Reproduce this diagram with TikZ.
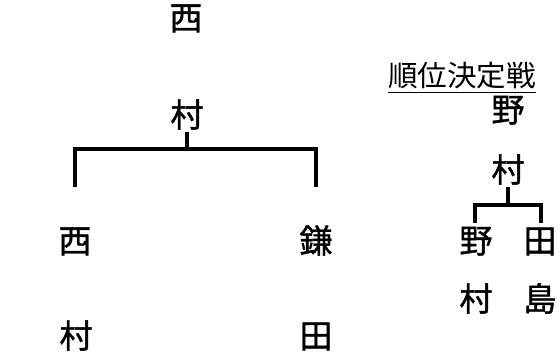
\documentclass[tikz,border=0pt]{standalone}
\usepackage{fontspec}
\newfontfamily\cjk{Noto Sans CJK JP}
\newfontfamily\cjkm{Noto Sans CJK JP}[FakeBold=1.2]
\tikzset{
  person/.style={font=\cjkm\fontsize{33}{36}\selectfont, inner sep=0pt, text depth=3pt, anchor=base},
  titletext/.style={font=\cjk\fontsize{29}{32}\selectfont, inner sep=0pt, anchor=base},
  bracket/.style={line width=3.2pt, line join=miter},
}
\begin{document}
\begin{tikzpicture}[x=1pt,y=-1pt]
\useasboundingbox (0,0) rectangle (560,357);
% main bracket
\node[person] (t1) at (186,30) {西};
\node[person] (t2) at (187,127) {村};
\node[person] (a1) at (75,253) {西};
\node[person] (a2) at (76,348) {村};
\node[person] (b1) at (316,253) {鎌};
\node[person] (b2) at (316,348) {田};
\coordinate (jl) at (75,149);
\coordinate (jr) at (316,149);
\coordinate (el) at (75,187);
\coordinate (er) at (316,187);
\draw[bracket] (el) -- (jl) -- (jr) -- (er);
\draw[bracket] (t2.south) ++(0,2) -- (t2.south |- jl);
% playoff
\node[titletext] (ttl) at (462,86) {\scalebox{1.02}[1]{順位決定戦}};
\draw[line width=1pt] ([yshift=-6pt]ttl.base west) -- ([yshift=-6pt]ttl.base east);
\node[person] (r1) at (508,122) {野};
\node[person] (r2) at (508,182) {村};
\node[person] (c1) at (476,253) {野};
\node[person] (c2) at (476,311) {村};
\node[person] (d1) at (540,253) {田};
\node[person] (d2) at (540,311) {島};
\coordinate (kl) at (475,205);
\coordinate (kr) at (541,205);
\coordinate (fl) at (475,223);
\coordinate (fr) at (541,223);
\draw[bracket] (fl) -- (kl) -- (kr) -- (fr);
\draw[bracket] (r2.south) ++(0,2) -- (r2.south |- kl);
\end{tikzpicture}
\end{document}
